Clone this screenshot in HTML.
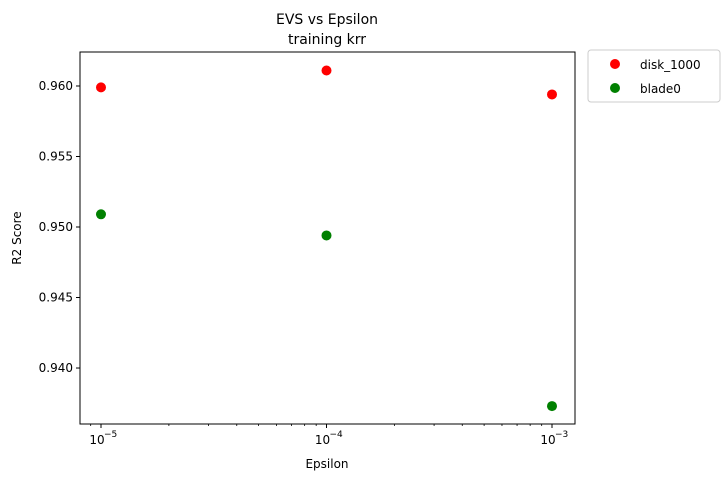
<!DOCTYPE html>
<html><head><meta charset="utf-8"><style>
body{margin:0;background:#fff;font-family:"Liberation Sans","DejaVu Sans",sans-serif;}
</style></head><body>
<svg id="chart" width="724" height="480" xmlns="http://www.w3.org/2000/svg" font-family="DejaVu Sans, Liberation Sans, sans-serif">
<text x="327" y="24" font-size="14" text-anchor="middle">EVS vs Epsilon</text>
<text x="327" y="44" font-size="14" text-anchor="middle">training krr</text>
<g id="axes"></g>
<g id="marks"></g>
<text x="327" y="468" font-size="12" text-anchor="middle">Epsilon</text>
<text x="21" y="238" font-size="12" text-anchor="middle" transform="rotate(-90 21 238)">R2 Score</text>
<g>
<rect x="588" y="50" width="132" height="52" fill="#fff" stroke="#ccc" rx="3"/>
<circle cx="615" cy="64" r="5" fill="#ff0000"/>
<text x="640" y="69" font-size="12">disk_1000</text>
<circle cx="615" cy="88" r="5" fill="#008000"/>
<text x="640" y="93" font-size="12">blade0</text>
</g>
</svg>
<script>
const epsilons=[1e-5,1e-4,1e-3];
const diskValues=[0.9599,0.9611,0.9594];
const bladeValues=[0.9509,0.9494,0.9373];
const yTicks=[0.940,0.945,0.950,0.955,0.960];
const xTickExps=[-5,-4,-3];
const L=80,R=575,T=52,B=424;
const xMin=-5.0931,xMax=-2.898,yMin=0.93603,yMax=0.96241;
const xs=v=>L+(Math.log10(v)-xMin)/(xMax-xMin)*(R-L);
const ys=v=>B-(v-yMin)/(yMax-yMin)*(B-T);
const NS="http://www.w3.org/2000/svg";
function mk(tag,attrs,parent){const e=document.createElementNS(NS,tag);for(const k in attrs)e.setAttribute(k,attrs[k]);parent.appendChild(e);return e;}
const ax=document.getElementById('axes'),mg=document.getElementById('marks');
const frame=mk('rect',{x:L,y:T,width:R-L,height:B-T,fill:'none',stroke:'#000','stroke-width':1},ax);


yTicks.forEach(t=>{const y=ys(t);
 const l=mk('line',{x1:L-4,x2:L,y1:y,y2:y,stroke:'#000'},ax);
 
 
 const tx=mk('text',{x:L-7,y:y+4,'font-size':12,'text-anchor':'end'},ax);tx.textContent=t.toFixed(3);
 
 
});
for(let e=-6;e<=-3;e++)for(let m=2;m<=9;m++){const v=m*Math.pow(10,e);const x=xs(v);if(x<L||x>R)continue;
 const l=mk('line',{x1:x,x2:x,y1:B,y2:B+2,stroke:'#000','stroke-width':0.8},ax);
 
 }
xTickExps.forEach(e=>{const x=xs(Math.pow(10,e));
 const l=mk('line',{x1:x,x2:x,y1:B,y2:B+4,stroke:'#000'},ax);
 
 
 const tx=mk('text',{x:x-4,y:B+20,'font-size':12,'text-anchor':'middle'},ax);tx.textContent='10';
 
 
 const sp=mk('text',{x:x+3,y:B+13,'font-size':9},ax);sp.textContent='\u2212'+(-e);
 
 
});
epsilons.forEach((v,i)=>{
 const c=mk('circle',{cx:xs(v),cy:ys(diskValues[i]),r:5,fill:'#ff0000'},mg);
 
 
 const d=mk('circle',{cx:xs(v),cy:ys(bladeValues[i]),r:5,fill:'#008000'},mg);
 
 
});
</script>
</body></html>
